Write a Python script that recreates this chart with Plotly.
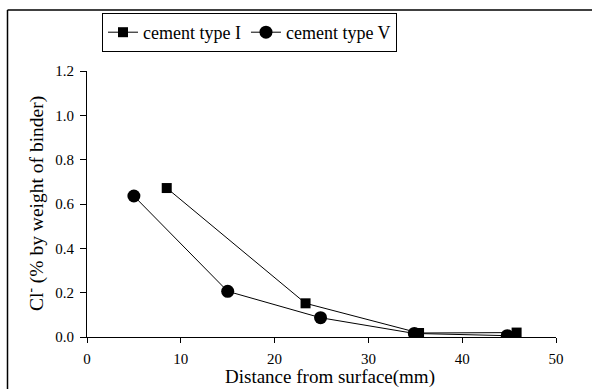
import plotly.graph_objects as go

x_type1 = [8.5, 23.3, 35.4, 45.8]
y_type1 = [0.672, 0.152, 0.018, 0.020]
x_type5 = [5.0, 15.0, 24.9, 34.9, 44.8]
y_type5 = [0.636, 0.206, 0.087, 0.016, 0.006]

FONT = "Liberation Serif"

fig = go.Figure()
fig.add_trace(go.Scatter(x=x_type1, y=y_type1, mode="lines+markers", name="cement type I",
                         line=dict(color="black", width=1),
                         marker=dict(symbol="square", size=10, color="black")))
fig.add_trace(go.Scatter(x=x_type5, y=y_type5, mode="lines+markers", name="cement type V",
                         line=dict(color="black", width=1),
                         marker=dict(symbol="circle", size=13, color="black")))

W, H = 592, 389
L, R, T, B = 87, 36, 71, 52
pw, ph = W - L - R, H - T - B

def px(x):
    return (x - L) / pw

def py(y):
    return (H - B - y) / ph

fig.update_layout(
    width=W, height=H,
    margin=dict(l=L, r=R, t=T, b=B),
    paper_bgcolor="white", plot_bgcolor="white",
    font=dict(family=FONT, color="black", size=15),
    showlegend=True,
    legend=dict(orientation="h", x=px(102), y=py(13), xanchor="left", yanchor="top",
                bordercolor="black", borderwidth=1, bgcolor="white",
                font=dict(size=18, family=FONT, color="black"),
                itemwidth=30, tracegroupgap=0),
    xaxis=dict(range=[0, 50], dtick=10, showgrid=False, zeroline=False,
               showline=True, linecolor="black", linewidth=1,
               ticks="outside", ticklen=5, tickcolor="black", ticklabelstandoff=3,
               tickfont=dict(size=15, family=FONT, color="black")),
    yaxis=dict(range=[0, 1.2], dtick=0.2, tickformat=".1f", showgrid=False, zeroline=False,
               showline=True, linecolor="black", linewidth=1,
               ticks="outside", ticklen=6, tickcolor="black", ticklabelstandoff=3,
               tickfont=dict(size=15, family=FONT, color="black")),
    annotations=[
        dict(text="Distance from surface(mm)", xref="paper", yref="paper",
             x=px(330), y=py(377), xanchor="center", yanchor="middle", showarrow=False,
             font=dict(size=19, family=FONT, color="black")),
        dict(text="Cl<sup>-</sup> (% by weight of binder)", xref="paper", yref="paper",
             x=px(35), y=py(204), xanchor="center", yanchor="middle", showarrow=False,
             textangle=-90, font=dict(size=19.5, family=FONT, color="black")),
    ],
    shapes=[
        dict(type="line", xref="paper", yref="paper", x0=px(7.5), x1=px(600), y0=py(10), y1=py(10),
             line=dict(color="black", width=1.5)),
        dict(type="line", xref="paper", yref="paper", x0=px(7.5), x1=px(7.5), y0=py(10), y1=py(400),
             line=dict(color="black", width=1.5)),
    ],
)

fig.write_html("out.html")
